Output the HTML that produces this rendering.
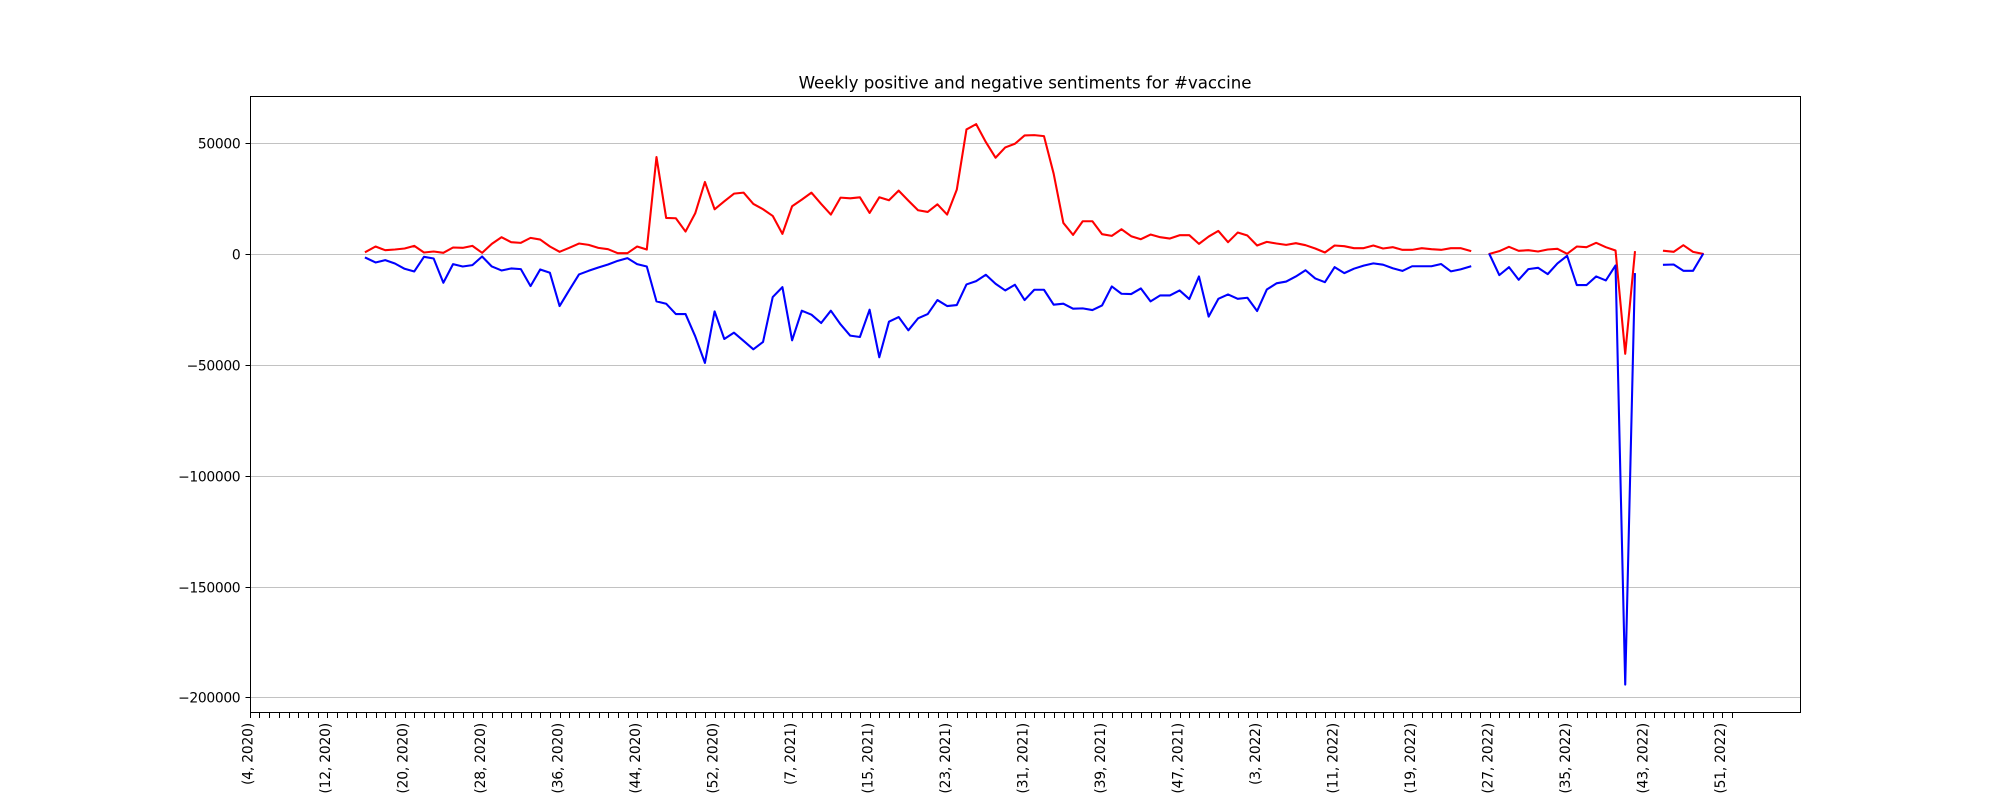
<!DOCTYPE html>
<html lang="en">
<head>
<meta charset="utf-8">
<title>Weekly positive and negative sentiments for #vaccine</title>
<style>
html,body{margin:0;padding:0;background:#fff;}
body{width:2000px;height:800px;overflow:hidden;}
svg{display:block;}
text{font-family:"DejaVu Sans","Liberation Sans",sans-serif;fill:#000;}
</style>
</head>
<body>
<svg id="chart" xmlns="http://www.w3.org/2000/svg" width="2000" height="800" viewBox="0 0 2000 800">
  <rect x="0" y="0" width="2000" height="800" fill="#ffffff"/>
  <g id="grid"></g>
  <g id="series"></g>
  <g id="yaxis"></g>
  <g id="xaxis"></g>
  <rect x="250.5" y="96.5" width="1550" height="616" fill="none" stroke="#000" stroke-width="1" shape-rendering="crispEdges"/>
  <text x="1025" y="88.3" text-anchor="middle" font-size="16.67" letter-spacing="-0.04">Weekly positive and negative sentiments for #vaccine</text>
</svg>
<script>
const tickCount = 154;
const labelEvery = 8;
const xTickLabels = ["(4, 2020)","(12, 2020)","(20, 2020)","(28, 2020)","(36, 2020)","(44, 2020)","(52, 2020)","(7, 2021)","(15, 2021)","(23, 2021)","(31, 2021)","(39, 2021)","(47, 2021)","(3, 2022)","(11, 2022)","(19, 2022)","(27, 2022)","(35, 2022)","(43, 2022)","(51, 2022)"];
const yTicks = [50000, 0, -50000, -100000, -150000, -200000];
const yTickLabels = ["50000","0","\u221250000","\u2212100000","\u2212150000","\u2212200000"];
const positive = [null,null,null,null,null,null,null,null,null,null,null,null,
1200,3600,1950,2250,2700,3900,900,1350,750,3150,3000,3900,750,4800,7800,5550,5250,7500,6750,3600,
1200,3000,4950,4350,3000,2400,600,600,3600,2250,43950,16500,16350,10350,18600,32700,20400,24000,27450,27900,
22800,20400,17400,9300,21750,24750,27900,22800,18000,25650,25350,25800,18750,25800,24450,28800,24300,19950,19200,22650,
18000,29250,56400,58800,50700,43650,48300,49950,53700,53850,53400,36450,14250,8850,15000,15000,9150,8400,11400,8250,
6900,9000,7800,7200,8700,8700,4800,8100,10650,5550,9900,8550,4050,5700,4950,4350,5100,4200,2700,900,
4050,3750,2850,2850,4050,2700,3300,2100,2100,2850,2400,2100,2850,2850,1650,null,
300,1500,3450,1650,1950,1350,2250,2550,300,3600,3300,5250,3300,1800,-44800,1050,null,null,
1650,1200,4200,1200,300,null,null,null];
const negative = [null,null,null,null,null,null,null,null,null,null,null,null,
-1500,-3600,-2550,-4050,-6450,-7650,-1050,-1800,-12750,-4350,-5400,-4800,-900,-5400,-7200,-6300,-6600,-14250,-6750,-8250,
-23250,-16050,-9000,-7350,-5850,-4500,-2850,-1650,-4350,-5400,-21150,-22200,-26850,-26850,-36900,-48900,-25650,-38100,-35250,-39000,
-42750,-39450,-19200,-14700,-38700,-25350,-27150,-30900,-25350,-31500,-36600,-37200,-24900,-46350,-30300,-28200,-34200,-28800,-26850,-20550,
-23250,-22800,-13500,-12000,-9150,-13200,-16200,-13650,-20550,-15900,-15900,-22650,-22200,-24450,-24300,-25050,-22950,-14400,-17700,-17850,
-15300,-21150,-18450,-18450,-16200,-20100,-9900,-28000,-20000,-18000,-20000,-19500,-25500,-15800,-13000,-12200,-9900,-7100,-10800,-12500,
-5700,-8400,-6400,-5000,-4000,-4600,-6200,-7400,-5300,-5300,-5300,-4300,-7600,-6700,-5400,null,
0,-9300,-5700,-11400,-6600,-6000,-8850,-4050,-600,-13800,-13800,-9900,-11700,-4950,-194000,-8850,null,null,
-4650,-4500,-7350,-7350,0,null,null,null];

const SVG_NS = "http://www.w3.org/2000/svg";
const tickLeft = 250.3, lineLeft = 249.6, weekPx = 9.6875;
const zeroY = 254.5, pxPerUnit = 110.85 / 50000;
function xTickScale(i) { return tickLeft + i * weekPx; }
function xScale(i) { return lineLeft + i * weekPx; }
function yScale(v) { return zeroY - v * pxPerUnit; }
function snap(p) { return Math.floor(p) + 0.5; }
function make(tag, parent, props) {
  const el = document.createElementNS(SVG_NS, tag);
  for (const k in props) el.setAttribute(k, props[k]);
  parent.appendChild(el);
  return el;
}
function linePath(values) {
  let d = "", open = false;
  values.forEach(function (v, i) {
    if (v === null || v === undefined) { open = false; return; }
    d += (open ? "L" : "M") + xScale(i).toFixed(2) + " " + yScale(v).toFixed(2);
    open = true;
  });
  return d;
}
const gridG = document.getElementById("grid");
const yG = document.getElementById("yaxis");
const xG = document.getElementById("xaxis");
const seriesG = document.getElementById("series");

yTicks.forEach(function (v, i) {
  const y = snap(yScale(v));
  const g = make("line", gridG, {x1: 250.5, x2: 1800.5, y1: y, y2: y, stroke: "#c2c2c2", "stroke-width": 1, "shape-rendering": "crispEdges"});
  
  
  const t = make("line", yG, {x1: 245.5, x2: 250.5, y1: y, y2: y, stroke: "#000", "stroke-width": 1, "shape-rendering": "crispEdges"});
  
  
  const lab = make("text", yG, {x: 240.3, y: y + 4.8, "text-anchor": "end", "font-size": 13.89, "letter-spacing": -0.35});
  lab.textContent = yTickLabels[i];
  
  
});

for (let i = 0; i < tickCount; i++) {
  const x = snap(xTickScale(i));
  const t = make("line", xG, {x1: x, x2: x, y1: 712.5, y2: 718, stroke: "#000", "stroke-width": 1, "shape-rendering": "crispEdges"});
  
  
  if (i % labelEvery === 0) {
    const tx = xTickScale(i) + 2, ty = 723;
    const lab = make("text", xG, {x: tx, y: ty, "text-anchor": "end", "font-size": 13.89, "letter-spacing": -0.2, transform: "rotate(-90 " + tx + " " + ty + ")"});
    lab.textContent = xTickLabels[i / labelEvery];
    
    
  }
}

const negLine = make("path", seriesG, {d: linePath(negative), fill: "none", stroke: "#0000ff", "stroke-width": 2.08, "stroke-linejoin": "round", "stroke-linecap": "square"});


const posLine = make("path", seriesG, {d: linePath(positive), fill: "none", stroke: "#ff0000", "stroke-width": 2.08, "stroke-linejoin": "round", "stroke-linecap": "square"});


seriesG.appendChild(negLine);
</script>
</body>
</html>
